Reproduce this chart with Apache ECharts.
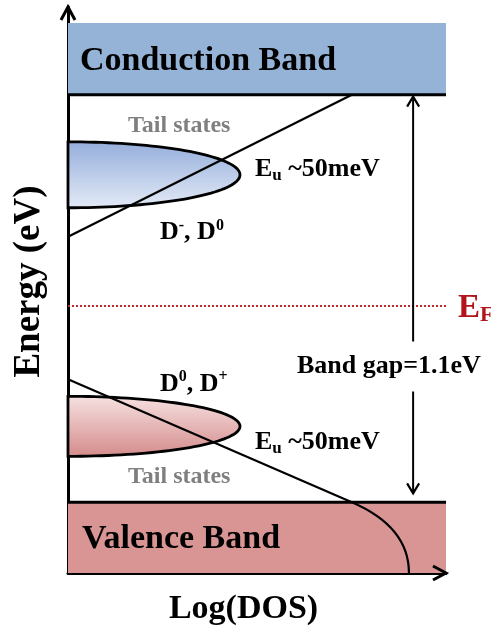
<!DOCTYPE html>
<html><head><meta charset="utf-8">
<script src="https://cdn.jsdelivr.net/npm/echarts@6/dist/echarts.min.js"></script>
<style>html,body{margin:0;padding:0;background:#fff}#c{width:491px;height:631px}</style>
</head><body><div id="c"></div>
<script>
// Energy in eV: valence-band edge at 0, conduction-band edge at 1.1 (band gap 1.1 eV)
const energyRange = [-0.191, 1.337];
const dosRange = [0, 100];
const bandNames = ['Conduction Band', 'Valence Band'];
// [dosStart, dosEnd, energyLow, energyHigh]
const bandBlocks = [[0, 100, 1.1, 1.294], [0, 100, -0.191, 0]];
const bandEdges = [1.1, 0];
const fermiLevel = 0.53;
// tail-state distributions [dos, energyCenter, dosWidth, energyHalfWidth]
const tailStates = [[0, 0.884, 45.5, 0.089], [0, 0.205, 45.5, 0.081]];
const conductionTail = [[0, 0.717], [75.1, 1.1]];
const valenceTail = [[0, 0.332], [75.1, 0]];
// valence-band DOS edge as a cubic curve: start, control 1, control 2, end
const valenceEdgeCurve = [[75.1, 0, 85.7, -0.0466, 90.2, -0.1105, 90.2, -0.191]];
// band gap arrows [dos, energyFrom, energyTo]
const gapArrows = [[91.3, 0.434, 1.095], [91.3, 0.299, 0.024]];
// axis arrow heads [dos, energy, dirX, dirY]
const axisEnds = [[dosRange[1], energyRange[0], 1, 0], [dosRange[0], energyRange[1], 0, 1]];

const FONT = 'Liberation Serif';
const bandColors = ['#95b3d7', '#d99594'];
const tailGradients = [
  [{offset: 0, color: '#94addb'}, {offset: 1, color: '#e4ebf7'}],
  [{offset: 0, color: '#f7e2e2'}, {offset: 1, color: '#d48a8a'}]
];

const chart = echarts.init(document.getElementById('c'), null, {renderer: 'canvas'});

function txt(text, x, y, size, color, rich) {
  const style = {text: text, fill: color || '#000', font: 'bold ' + size + 'px "' + FONT + '"', align: 'left', verticalAlign: 'middle'};
  if (rich) style.rich = rich;
  return {type: 'text', x: x, y: y, z: 100, style: style};
}
function richDef(main, sup, sub, color) {
  const c = color || '#000';
  return {
    m: {fontFamily: FONT, fontWeight: 'bold', fontSize: main, lineHeight: main + 4, color: c, verticalAlign: 'middle'},
    p: {fontFamily: FONT, fontWeight: 'bold', fontSize: sup, lineHeight: sup + 4, color: c, verticalAlign: 'top'},
    b: {fontFamily: FONT, fontWeight: 'bold', fontSize: sub, lineHeight: sub - 2, color: c, verticalAlign: 'bottom'}
  };
}

const lineBase = {type: 'line', symbol: 'none', silent: true, animation: false};
const hiddenAxisParts = {axisTick: {show: false}, axisLabel: {show: false}, splitLine: {show: false}};

const option = {
  backgroundColor: '#fff',
  animation: false,
  grid: {left: 68, right: 45, top: 7, bottom: 57},
  xAxis: Object.assign({
    type: 'value', min: dosRange[0], max: dosRange[1],
    axisLine: {onZero: false, lineStyle: {color: '#000', width: 3}},
    name: 'Log(DOS)', nameLocation: 'middle', nameGap: 19,
    nameTextStyle: {fontFamily: FONT, fontWeight: 'bold', fontSize: 34, color: '#000', padding: [0, 27, 0, 0]}
  }, hiddenAxisParts),
  yAxis: Object.assign({
    type: 'value', min: energyRange[0], max: energyRange[1],
    axisLine: {onZero: false, lineStyle: {color: '#000', width: 3}},
    name: 'Energy (eV)', nameLocation: 'middle', nameGap: 20, nameRotate: 90,
    nameTextStyle: {fontFamily: FONT, fontWeight: 'bold', fontSize: 37, color: '#000', padding: [0, 0, 0, 17]}
  }, hiddenAxisParts),
  series: [
    {
      type: 'custom', name: 'bands', silent: true, z: 1,
      data: bandBlocks,
      renderItem: function (params, api) {
        const p0 = api.coord([api.value(0), api.value(3)]);
        const p1 = api.coord([api.value(1), api.value(2)]);
        return {type: 'rect', shape: {x: p0[0], y: p0[1], width: p1[0] - p0[0], height: p1[1] - p0[1]}, style: {fill: bandColors[params.dataIndex]}};
      }
    },
    {
      type: 'custom', name: 'tail states', silent: true, z: 2,
      data: tailStates,
      renderItem: function (params, api) {
        const c = api.coord([api.value(0), api.value(1)]);
        const e = api.coord([api.value(0) + api.value(2), api.value(1) + api.value(3)]);
        const rx = e[0] - c[0], ry = c[1] - e[1];
        const pts = [];
        for (let i = 0; i <= 80; i++) {
          const t = -Math.PI / 2 + Math.PI * i / 80;
          pts.push([c[0] + rx * Math.cos(t), c[1] + ry * Math.sin(t)]);
        }
        return {type: 'polygon', shape: {points: pts},
          style: {fill: new echarts.graphic.LinearGradient(0, 0, 0, 1, tailGradients[params.dataIndex]), stroke: '#000', lineWidth: 2.8}};
      }
    },
    Object.assign({}, lineBase, {name: 'EF', z: 3, data: [[dosRange[0], fermiLevel], [dosRange[1], fermiLevel]], lineStyle: {color: '#c0282d', width: 2, type: [2, 2]}}),
    Object.assign({}, lineBase, {name: 'CB edge', z: 4, data: [[dosRange[0], bandEdges[0]], [dosRange[1], bandEdges[0]]], lineStyle: {color: '#000', width: 3}}),
    Object.assign({}, lineBase, {name: 'VB edge', z: 4, data: [[dosRange[0], bandEdges[1]], [dosRange[1], bandEdges[1]]], lineStyle: {color: '#000', width: 3}}),
    Object.assign({}, lineBase, {name: 'CB tail', z: 5, data: conductionTail, lineStyle: {color: '#000', width: 2.2}}),
    Object.assign({}, lineBase, {name: 'VB tail', z: 5, data: valenceTail, lineStyle: {color: '#000', width: 2.2}}),
    {
      type: 'custom', name: 'VB DOS', silent: true, z: 5,
      data: valenceEdgeCurve,
      renderItem: function (params, api) {
        const p = [0, 1, 2, 3].map(function (k) { return api.coord([api.value(2 * k), api.value(2 * k + 1)]); });
        return {type: 'bezierCurve', shape: {x1: p[0][0], y1: p[0][1], cpx1: p[1][0], cpy1: p[1][1], cpx2: p[2][0], cpy2: p[2][1], x2: p[3][0], y2: p[3][1]},
          style: {stroke: '#000', lineWidth: 2.2, fill: null}};
      }
    },
    {
      type: 'custom', name: 'band gap', silent: true, z: 6,
      data: gapArrows,
      renderItem: function (params, api) {
        const a = api.coord([api.value(0), api.value(1)]);
        const b = api.coord([api.value(0), api.value(2)]);
        const dir = b[1] < a[1] ? -1 : 1;
        const h = 10, w = 6;
        return {type: 'group', children: [
          {type: 'line', shape: {x1: a[0], y1: a[1], x2: b[0], y2: b[1]}, style: {stroke: '#000', lineWidth: 2}},
          {type: 'polyline', shape: {points: [[b[0] - w, b[1] - dir * h], [b[0], b[1]], [b[0] + w, b[1] - dir * h]]}, style: {stroke: '#000', lineWidth: 2.2, fill: null}}
        ]};
      }
    },
    {
      type: 'custom', name: 'axis arrows', silent: true, z: 20, clip: false,
      data: axisEnds,
      renderItem: function (params, api) {
        const t = api.coord([api.value(0), api.value(1)]);
        const dx = api.value(2), dy = -api.value(3);
        const h = 13, w = 7;
        const px = -dy, py = dx;
        return {type: 'polyline', shape: {points: [
          [t[0] - dx * h + px * w, t[1] - dy * h + py * w], [t[0], t[1]], [t[0] - dx * h - px * w, t[1] - dy * h - py * w]]},
          style: {stroke: '#000', lineWidth: 3, fill: null, lineJoin: 'miter'}};
      }
    }
  ],
  graphic: [
    txt(bandNames[0], 80, 61.5, 34),
    txt('Tail states', 128, 125.5, 24, '#7f7f7f'),
    txt('{m|E}{b|u}{m| ~50meV}', 255, 169, 26, '#000', richDef(26, 16, 17)),
    txt('{m|D}{p|-}{m|, D}{p|0}', 160, 232.5, 26, '#000', richDef(26, 16, 17)),
    txt('{m|E}{b|F}', 458, 308, 33, '#b3141b', richDef(33, 20, 22, '#b3141b')),
    txt('Band gap=1.1eV', 297, 366.5, 26),
    txt('{m|D}{p|0}{m|, D}{p|+}', 160, 384, 26, '#000', richDef(26, 16, 17)),
    txt('{m|E}{b|u}{m| ~50meV}', 255, 442.5, 26, '#000', richDef(26, 16, 17)),
    txt('Tail states', 128, 477, 24, '#7f7f7f'),
    txt(bandNames[1], 82, 539, 34)
  ]
};
chart.setOption(option);
</script></body></html>
